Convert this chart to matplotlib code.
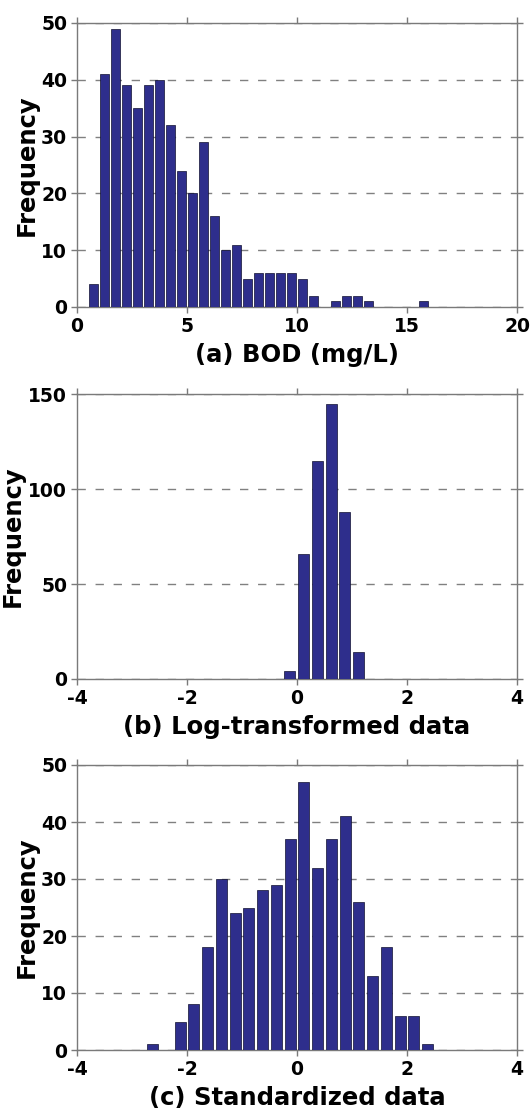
import matplotlib
matplotlib.use("Agg")
import matplotlib.pyplot as plt

plt.rcParams["axes.unicode_minus"] = False

# bin centres and counts
bod_centers = [0.75 + 0.5 * i for i in range(31)]
bod_counts = [4, 41, 49, 39, 35, 39, 40, 32, 24, 20, 29, 16, 10, 11, 5, 6,
              6, 6, 6, 5, 2, 0, 1, 2, 2, 1, 0, 0, 0, 0, 1]

log_centers = [-0.13, 0.12, 0.37, 0.62, 0.87, 1.12]
log_counts = [4, 66, 115, 145, 88, 14]

std_centers = [-2.625 + 0.25 * i for i in range(21)]
std_counts = [1, 0, 5, 8, 18, 30, 24, 25, 28, 29, 37, 47, 32, 37, 41, 26,
              13, 18, 6, 6, 1]

panels = [
    (bod_centers, bod_counts, 0.44, (0, 20), range(0, 21, 5), (0, 50), range(0, 51, 10), "(a) BOD (mg/L)"),
    (log_centers, log_counts, 0.2, (-4, 4), range(-4, 5, 2), (0, 150), range(0, 151, 50), "(b) Log-transformed data"),
    (std_centers, std_counts, 0.2, (-4, 4), range(-4, 5, 2), (0, 50), range(0, 51, 10), "(c) Standardized data"),
]

W, H = 531, 1116
fig = plt.figure(figsize=(W / 100, H / 100), dpi=100)

boxes = [(23, 307), (394, 679), (765, 1050)]
ylabel_x = [27, 13, 27]   # pixel centre of the "Frequency" label
left, right = 77, 517
bar_color = "#2e2e8c"
frame = "#7a7a7a"

for (cx, cy, bw, xl, xt, yl, yt, label), (top, bot), lx in zip(panels, boxes, ylabel_x):
    ax = fig.add_axes([left / W, 1 - bot / H, (right - left) / W, (bot - top) / H])
    ax.bar(cx, cy, width=bw, color=bar_color, edgecolor="#101030", linewidth=0.5, zorder=3)
    ax.set_xlim(*xl)
    ax.set_ylim(*yl)
    ax.set_xticks(list(xt))
    ax.set_yticks(list(yt))
    ax.yaxis.grid(True, color="#808080", linestyle=(0, (6, 7)), linewidth=1.0, zorder=0)
    ax.set_axisbelow(True)
    for s in ax.spines.values():
        s.set_color(frame)
        s.set_linewidth(1.0)
    ax.tick_params(direction="out", length=4, width=1, color=frame,
                   top=True, right=True, labelsize=13.5, pad=3)
    for t in ax.get_xticklabels() + ax.get_yticklabels():
        t.set_fontweight("bold")
    ax.set_xlabel(label, fontsize=17.5, fontweight="bold", labelpad=5)
    ax.set_ylabel("Frequency", fontsize=17.5, fontweight="bold", va="center")
    ax.yaxis.set_label_coords((lx - left) / (right - left), 0.5)

fig.savefig("out.png", dpi=100)
